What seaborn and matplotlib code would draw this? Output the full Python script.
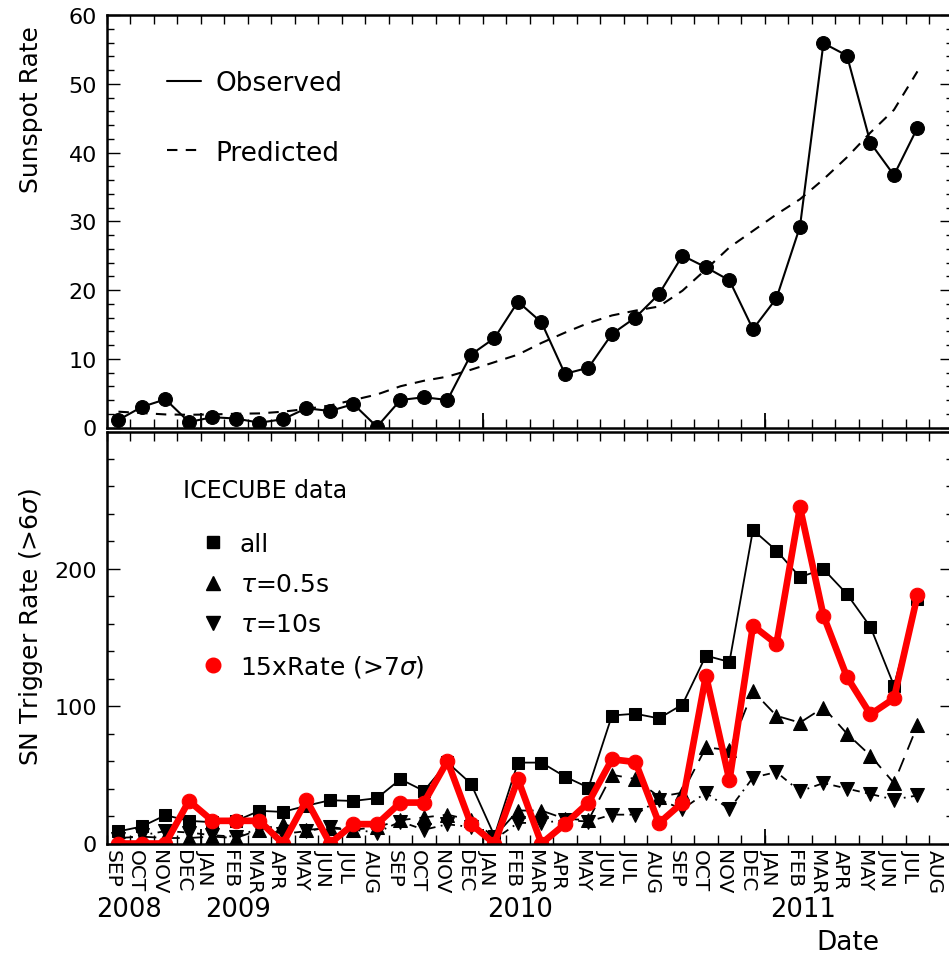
import numpy as np
import pandas as pd
import matplotlib
matplotlib.use("Agg")
import matplotlib.pyplot as plt
import matplotlib.transforms as mtrans
from matplotlib.lines import Line2D
from matplotlib.ticker import FixedLocator, MultipleLocator
import seaborn as sns

# ---------------- data ----------------
month_labels = ['SEP', 'OCT', 'NOV', 'DEC', 'JAN', 'FEB', 'MAR', 'APR', 'MAY', 'JUN', 'JUL', 'AUG'] * 3
year_labels = ['2008', '2009', '2010', '2011']
year_month_index = [-0.43, 4.19, 16.17, 28.23]   # where each year label starts (months since Sep 2008)

# monthly values, Sep 2008 ... Jul 2011 (plotted at mid-month)
sunspot_observed = [1.1, 3.0, 4.1, 0.8, 1.5, 1.3, 0.7, 1.2, 2.8, 2.4, 3.4, 0.1, 4.0, 4.4, 4.0,
                    10.6, 13.0, 18.3, 15.3, 7.8, 8.7, 13.6, 16.0, 19.4, 25.0, 23.3, 21.4, 14.3,
                    18.8, 29.2, 55.9, 54.1, 41.4, 36.7, 43.6]
sunspot_predicted = [2.3, 2.1, 1.9, 1.85, 1.9, 2.0, 2.05, 2.3, 2.7, 3.2, 4.0, 4.8, 6.0, 6.8, 7.4,
                     8.4, 9.5, 10.6, 12.3, 13.8, 15.2, 16.3, 17.0, 17.6, 19.9, 23.0, 26.2, 28.6,
                     31.0, 33.2, 36.1, 39.3, 42.9, 46.2, 51.8]

rate_all = [8.8, 12.4, 20.6, 16.5, 15.5, 16.5, 23.8, 23.0, 27.5, 31.5, 31.0, 33.0, 46.8, 38.3, 59.0,
            43.6, 5.6, 58.9, 58.9, 48.7, 40.7, 93.2, 94.5, 91.1, 101.2, 136.8, 132.2, 228.3, 213.3,
            194.0, 199.8, 181.6, 157.7, 115.0, 178.0]
rate_tau05 = [4, 5, 4, 4, 5, 4, 10, 14, 10, 11, 10, 12, 17, 19, 21, 17, 5, 24, 24, 18, 17, 50, 47,
              34, 37, 70, 68, 111, 93, 88, 99, 80, 64, 44, 86]
rate_tau10 = [3, 6, 9, 8, 6, 5, 11, 7, 9, 12, 10, 8, 16, 10, 14, 12, 3, 15, 15, 17, 16, 21, 21, 32,
              25, 37, 25, 48, 52, 38, 44, 40, 36, 32, 35]
rate_7sigma_x15 = [0, 0, 0, 31.0, 16.5, 16.5, 16.5, 0, 31.7, 0, 14.1, 14.1, 29.8, 29.8, 60.0, 14.1,
                   0, 46.8, 0, 14.1, 29.8, 61.3, 59.3, 14.8, 29.8, 122.3, 46.0, 158.6, 145.3, 244.8,
                   165.9, 121.3, 94.0, 105.6, 180.6]

x_mid = np.arange(len(sunspot_observed)) + 0.5

# ---------------- style ----------------
sns.set_style("white")
plt.rcParams['font.family'] = ['DejaVu Sans']
plt.rcParams['mathtext.fontset'] = 'dejavusans'
for key in ['text.color', 'axes.labelcolor', 'xtick.color', 'ytick.color', 'axes.edgecolor']:
    plt.rcParams[key] = 'black'

W_PX, H_PX = 949, 962
fig = plt.figure(figsize=(W_PX / 100, H_PX / 100), dpi=100)

left = 106.7 / W_PX
width = 846 / W_PX
h = 412.5 / H_PX
ax1 = fig.add_axes([left, 1 - 428.5 / H_PX, width, h])
ax2 = fig.add_axes([left, 1 - 844.5 / H_PX, width, 412.0 / H_PX])

# ---------------- top panel ----------------
sns.lineplot(x=x_mid, y=sunspot_observed, ax=ax1, color='black', lw=1.5, marker='o',
             markersize=10, markeredgecolor='black', markerfacecolor='black',
             errorbar=None, sort=False)
sns.lineplot(x=x_mid, y=sunspot_predicted, ax=ax1, color='black', lw=1.5,
             linestyle=(0, (5, 4)), errorbar=None, sort=False)

# ---------------- bottom panel ----------------
sns.lineplot(x=x_mid, y=rate_tau10, ax=ax2, color='black', lw=1.3, linestyle=(0, (4, 3, 1, 3)),
             marker='v', markersize=9.5, markeredgecolor='black', errorbar=None, sort=False)
sns.lineplot(x=x_mid, y=rate_tau05, ax=ax2, color='black', lw=1.3, linestyle=(0, (8, 5)),
             marker='^', markersize=9.5, markeredgecolor='black', errorbar=None, sort=False)
sns.lineplot(x=x_mid, y=rate_all, ax=ax2, color='black', lw=1.3, linestyle='-',
             marker='s', markersize=9, markeredgecolor='black', errorbar=None, sort=False)
sns.lineplot(x=x_mid, y=rate_7sigma_x15, ax=ax2, color='red', lw=4.8, linestyle='-',
             marker='o', markersize=10.5, markeredgecolor='red', errorbar=None, sort=False)

# ---------------- axes cosmetics ----------------
for ax in (ax1, ax2):
    ax.set_xlim(0, 36)
    ax.xaxis.set_major_locator(FixedLocator(np.arange(36)))
    ax.xaxis.set_minor_locator(FixedLocator([4, 16, 28]))
    ax.xaxis.remove_overlapping_locs = False
    ax.tick_params(axis='x', which='major', direction='in', length=6.7, width=1.0,
                   top=True, bottom=True, color='black')
    ax.tick_params(axis='x', which='minor', direction='in', length=10.8, width=1.3,
                   top=False, bottom=True, color='black')
    ax.tick_params(axis='y', which='major', direction='in', length=9.4, width=1.0,
                   left=True, right=True, labelsize=16, pad=7, color='black', labelcolor='black')
    ax.tick_params(axis='y', which='minor', direction='in', length=5, width=1.0,
                   left=True, right=True, color='black')
    for sp in ax.spines.values():
        sp.set_linewidth(1.8)
        sp.set_color('black')
    ax.set_xlabel('')

ax1.set_ylim(0, 60)
ax1.yaxis.set_major_locator(MultipleLocator(10))
ax1.yaxis.set_minor_locator(MultipleLocator(2))
ax1.tick_params(axis='x', labelbottom=False)

ax2.set_ylim(0, 300)
ax2.yaxis.set_major_locator(FixedLocator([0, 100, 200, 300]))
ax2.yaxis.set_minor_locator(MultipleLocator(20))
ax2.set_yticklabels(['0', '100', '200', ''])

ax2.set_xticks(np.arange(36))
ax2.set_xticklabels(month_labels, rotation=-90, fontsize=14.5, ha='center', va='top',
                    color='black')
ax2.tick_params(axis='x', which='major', pad=4)
offset = mtrans.ScaledTranslation(5 / 100, 0, fig.dpi_scale_trans)
for lab in ax2.get_xticklabels():
    lab.set_transform(lab.get_transform() + offset)

ax1.set_ylabel('Sunspot Rate', fontsize=18, color='black')
ax1.yaxis.label.set_va('center')
ax1.yaxis.set_label_coords((31 - 106.7) / 846, (428.5 - 110) / 412.5)

ax2.set_ylabel('SN Trigger Rate (>6$\\sigma$)', fontsize=18, color='black')
ax2.yaxis.label.set_va('center')
ax2.yaxis.set_label_coords((31 - 106.7) / 846, (844.5 - 627) / 412.0)

trans = mtrans.blended_transform_factory(ax2.transData, ax2.transAxes)
for xm, yl in zip(year_month_index, year_labels):
    ax2.text(xm, (844.5 - 910) / 412.0, yl, transform=trans, ha='left', va='center',
             fontsize=18.5, clip_on=False)
ax2.text(31.55, (844.5 - 943) / 412.0, 'Date', transform=trans, ha='center', va='center',
         fontsize=19, clip_on=False)

# ---------------- legends ----------------
h_obs = Line2D([], [], color='black', lw=1.5, ls='-')
h_pred = Line2D([], [], color='black', lw=1.5, ls=(0, (5, 4)))
ax1.legend([h_obs, h_pred], ['Observed', 'Predicted'], loc='upper left',
           bbox_to_anchor=((166.7 - 106.7) / 846, (428.5 - 71) / 412.5),
           frameon=False, fontsize=19, handlelength=1.3, handletextpad=0.55,
           labelspacing=1.65, borderaxespad=0, borderpad=0)

ax2.text((183 - 106.7) / 846, (844.5 - 491) / 412.0, 'ICECUBE data', transform=ax2.transAxes,
         ha='left', va='center', fontsize=17)
hs = [Line2D([], [], color='black', ls='none', marker='s', markersize=9),
      Line2D([], [], color='black', ls='none', marker='^', markersize=9.5),
      Line2D([], [], color='black', ls='none', marker='v', markersize=9.5),
      Line2D([], [], color='red', ls='none', marker='o', markersize=10.5)]
ax2.legend(hs, ['all', '$\\tau$=0.5s', '$\\tau$=10s', '15xRate (>7$\\sigma$)'], loc='upper left',
           bbox_to_anchor=((200.8 - 106.7) / 846, (844.5 - 533) / 412.0),
           frameon=False, fontsize=18, handlelength=1.0, handletextpad=0.55,
           labelspacing=0.65, borderaxespad=0, borderpad=0)

fig.savefig('out.png', dpi=100)
